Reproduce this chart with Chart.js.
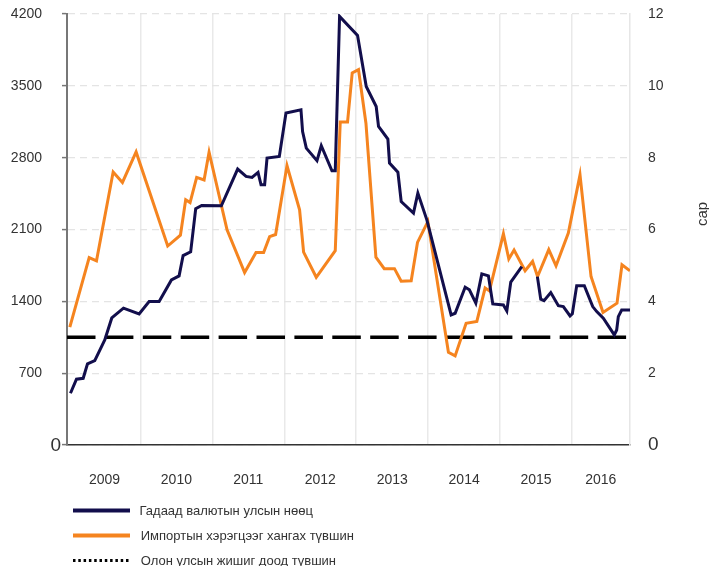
<!DOCTYPE html>
<html><head><meta charset="utf-8">
<script src="https://cdn.jsdelivr.net/npm/chart.js@4.4.1/dist/chart.umd.min.js"></script>
<style>html,body{margin:0;padding:0;background:#fff;}#wrap{width:709px;height:566px;position:relative;}</style>
</head><body><div id="wrap"><canvas id="c" width="709" height="566"></canvas></div>
<script>
// ---- data (x = months since Jan 2009) ----
const yearLabels = ['2009','2010','2011','2012','2013','2014','2015','2016'];
const yearCenters = [6, 18, 30, 42, 54, 66, 78, 88.8];
const yearBoundaries = [12, 24, 36, 48, 60, 72, 84];
const leftTicks = [0, 700, 1400, 2100, 2800, 3500, 4200];
const rightTicks = [0, 2, 4, 6, 8, 10, 12];

const reserveMonths = [0.33,1.33,2.45,3.17,4.38,6.05,7.22,9.17,11.78,13.45,15.12,17.17,18.45,19.12,20.38,21.22,22.22,25.5,28.22,29.62,30.62,31.62,32.12,32.72,33.12,35.17,36.28,38.78,39.05,39.67,41.45,42.17,43.95,44.5,45.22,48.22,49.67,51.33,51.72,53.28,53.55,54.95,55.5,57.55,58.28,59.78,63.83,64.5,66.17,66.88,67.95,68.95,70.05,70.78,72.55,73.12,73.78,75.62,76.9,78.22,78.78,79.33,80.45,81.72,82.55,83.67,84.05,84.78,86.05,87.45,88.12,89.22,91.05,91.45,91.72,92.28,93.67];
const reserveValues = [504,641,650,790,822,1024,1238,1333,1278,1398,1398,1609,1648,1846,1882,2302,2334,2331,2689,2617,2607,2656,2536,2536,2796,2812,3235,3267,3055,2893,2770,2916,2672,2672,4177,3991,3494,3299,3104,2981,2747,2659,2373,2260,2455,2194,1268,1284,1538,1512,1382,1668,1648,1375,1365,1307,1587,1739,null,1641,1421,1407,1485,1358,1349,1258,1278,1553,1553,1349,1300,1235,1073,1121,1251,1316,1316];

const importMonths = [0.22,3.45,4.67,7.45,9.0,11.28,16.55,18.67,19.55,20.28,21.38,22.62,23.45,26.45,29.38,31.28,32.55,33.55,34.55,36.45,38.55,39.22,41.33,44.5,45.33,46.55,47.33,48.38,49.62,51.28,52.67,54.38,55.5,57.17,58.22,59.95,63.38,64.5,66.33,68.12,69.5,70.22,72.55,73.45,74.33,76.17,77.42,78.25,80.12,81.33,83.38,85.33,87.17,89.17,91.5,92.33,93.67];
const importCover = [3.28,5.22,5.13,7.60,7.31,8.16,5.54,5.84,6.83,6.75,7.45,7.38,8.15,5.99,4.80,5.36,5.36,5.80,5.86,7.78,6.55,5.37,4.67,5.41,8.99,8.99,10.36,10.45,8.96,5.23,4.91,4.91,4.56,4.57,5.64,6.22,2.58,2.48,3.39,3.44,4.37,4.29,5.88,5.18,5.43,4.85,5.11,4.69,5.44,4.99,5.90,7.52,4.69,3.69,3.95,5.02,4.85];

const thresholdCover = 3;
const xRange = [-0.25, 93.67];
const seriesNames = ['Гадаад валютын улсын нөөц', 'Импортын хэрэгцээг хангах түвшин', 'Олон улсын жишиг доод түвшин'];
const rightAxisTitle = 'сар';

// ---- styles ----
const NAVY = '#120e4c', ORANGE = '#f5841f', TXT = '#333333';
const FONT = "'Liberation Sans', Arial, sans-serif";
Chart.defaults.font.family = FONT;

const extras = {
  id: 'extras',
  afterDraw(chart) {
    const ctx = chart.ctx, ca = chart.chartArea;
    ctx.save();
    ctx.fillStyle = TXT;
    ctx.font = '19px ' + FONT;
    ctx.textAlign = 'right'; ctx.textBaseline = 'middle';
    ctx.fillText('0', ca.left - 6, chart.scales.y.getPixelForValue(0) + 1);
    ctx.save();
    ctx.translate(703, 214);
    ctx.rotate(-Math.PI / 2);
    ctx.font = '15px ' + FONT;
    ctx.textAlign = 'center'; ctx.textBaseline = 'middle';
    ctx.fillText(rightAxisTitle, 0, 0);
    ctx.restore();
    const items = [
      {color: NAVY, dash: [], w: 4},
      {color: ORANGE, dash: [], w: 4},
      {color: '#000', dash: [2.5, 2.8], w: 3}
    ];
    const rows = [510.5, 535.5, 560.5];
    items.forEach((it, i) => {
      ctx.beginPath();
      ctx.setLineDash(it.dash);
      ctx.lineWidth = it.w;
      ctx.strokeStyle = it.color;
      ctx.moveTo(73, rows[i]); ctx.lineTo(130, rows[i]);
      ctx.stroke();
      ctx.setLineDash([]);
      ctx.font = '13px ' + FONT;
      ctx.textAlign = 'left'; ctx.textBaseline = 'middle';
      ctx.fillStyle = TXT;
      ctx.fillText(seriesNames[i], i === 0 ? 139.5 : 140.7, rows[i] + 0.5);
    });
    ctx.restore();
  }
};

new Chart(document.getElementById('c'), {
  type: 'line',
  data: {
    datasets: [
      {
        label: seriesNames[0],
        data: reserveMonths.map((m, i) => ({x: m, y: reserveValues[i]})),
        xAxisID: 'x', yAxisID: 'y',
        borderColor: NAVY, borderWidth: 3, pointRadius: 0, tension: 0, spanGaps: false, fill: false
      },
      {
        label: seriesNames[1],
        data: importMonths.map((m, i) => ({x: m, y: importCover[i]})),
        xAxisID: 'x', yAxisID: 'y2',
        borderColor: ORANGE, borderWidth: 3, pointRadius: 0, tension: 0, fill: false
      },
      {
        label: seriesNames[2],
        data: [{x: xRange[0], y: thresholdCover}, {x: xRange[1], y: thresholdCover}],
        xAxisID: 'x', yAxisID: 'y2',
        borderColor: '#000', borderWidth: 3.5, borderDash: [28.5, 9.4], pointRadius: 0, tension: 0, fill: false
      }
    ]
  },
  options: {
    responsive: false,
    animation: false,
    devicePixelRatio: 1,
    layout: {padding: {top: 14, bottom: 76, left: 0, right: 0}},
    plugins: {legend: {display: false}, tooltip: {enabled: false}},
    scales: {
      x: {
        type: 'linear', position: 'bottom', min: xRange[0], max: xRange[1],
        afterBuildTicks: s => { s.ticks = [...yearBoundaries, ...yearCenters].sort((a, b) => a - b).map(v => ({value: v})); },
        afterFit: s => { s.height = 45; s.paddingLeft = 0; s.paddingRight = 0; },
        ticks: {
          autoSkip: false, maxRotation: 0, minRotation: 0, padding: 27,
          color: TXT, font: {size: 14},
          callback: v => { const i = yearCenters.indexOf(v); return i >= 0 ? yearLabels[i] : ''; }
        },
        grid: {
          color: c => (c.tick && yearBoundaries.includes(c.tick.value)) ? '#e9e9e9' : 'rgba(0,0,0,0)',
          lineWidth: 1.5, drawTicks: false
        },
        border: {color: '#333', width: 1.5}
      },
      y: {
        type: 'linear', position: 'left', min: 0, max: 4200,
        afterBuildTicks: s => { s.ticks = leftTicks.map(v => ({value: v})); },
        afterFit: s => { s.width = 67; s.paddingTop = 0; s.paddingBottom = 0; },
        ticks: {padding: 20, color: TXT, font: {size: 14}, callback: v => v === 0 ? '' : String(v)},
        grid: {color: '#e4e4e4', lineWidth: 1.2, tickLength: 5, tickColor: '#777', tickWidth: 1.5, tickBorderDash: []},
        border: {color: '#777', width: 2, dash: [7, 5]}
      },
      y2: {
        type: 'linear', position: 'right', min: 0, max: 12,
        afterBuildTicks: s => { s.ticks = rightTicks.map(v => ({value: v})); },
        afterFit: s => { s.width = 79; s.paddingTop = 0; s.paddingBottom = 0; },
        ticks: {padding: 18, color: TXT, font: c => ({size: (c.tick && c.tick.value === 0) ? 19 : 14}), callback: v => String(v)},
        grid: {drawOnChartArea: false, drawTicks: false},
        border: {color: '#e6e6e6', width: 1.5}
      }
    }
  },
  plugins: [extras]
});
</script></body></html>
